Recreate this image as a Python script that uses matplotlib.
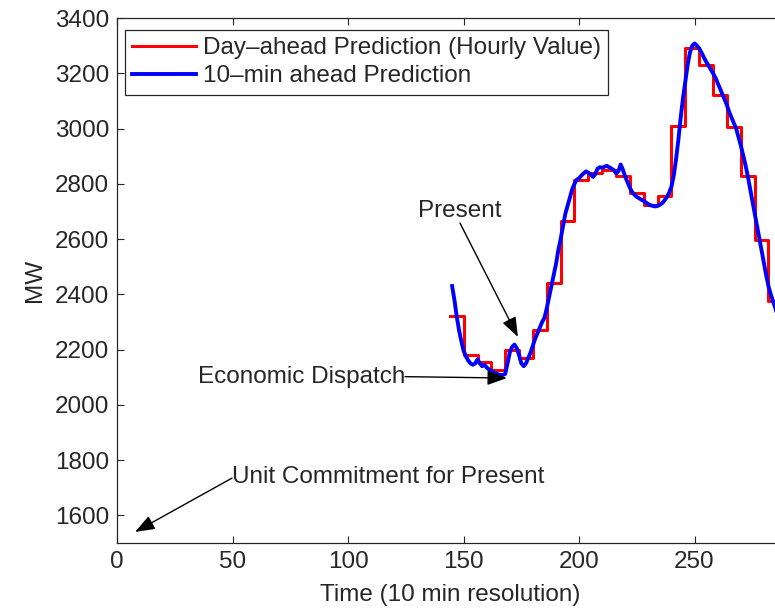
import numpy as np
import matplotlib.pyplot as plt

plt.rcParams['font.family'] = ['Liberation Sans', 'DejaVu Sans']

# 10-min ahead prediction, one value per 10-min step starting at t = 145
t_start = 145
load_10min = [
    2430, 2380, 2320, 2270, 2230, 2195, 2175, 2160, 2150, 2145,
    2150, 2165, 2150, 2140, 2145, 2135, 2128, 2122, 2118, 2114,
    2110, 2108, 2108, 2112, 2150, 2190, 2210, 2218, 2205, 2180,
    2150, 2140, 2150, 2170, 2190, 2215, 2240, 2260, 2280, 2300,
    2315, 2350, 2390, 2430, 2470, 2510, 2560, 2600, 2645, 2690,
    2720, 2750, 2780, 2800, 2815, 2820, 2830, 2838, 2845, 2840,
    2835, 2825, 2835, 2855, 2860, 2858, 2862, 2865, 2860, 2855,
    2850, 2838, 2845, 2870, 2850, 2825, 2805, 2785, 2770, 2760,
    2752, 2748, 2742, 2738, 2732, 2726, 2722, 2720, 2718, 2720,
    2724, 2730, 2740, 2752, 2768, 2790, 2830, 2890, 2960, 3040,
    3110, 3170, 3230, 3275, 3300, 3308, 3300, 3290, 3275, 3258,
    3242, 3228, 3214, 3200, 3185, 3165, 3145, 3125, 3105, 3085,
    3060, 3040, 3020, 3000, 2970, 2940, 2905, 2870, 2830, 2785,
    2740, 2695, 2650, 2605, 2560, 2515, 2470, 2430, 2400, 2375,
    2350, 2320, 2290, 2260,
]

# day-ahead hourly values, each held for 6 steps starting at t = 144
hour_start = 144
load_hourly = [
    2320, 2180, 2155, 2125, 2200, 2170, 2270, 2440, 2665, 2815,
    2840, 2850, 2830, 2765, 2725, 2755, 3010, 3290, 3230, 3120,
    3005, 2830, 2595, 2375,
]

xticks = [0, 50, 100, 150, 200, 250]
yticks = [1600, 1800, 2000, 2200, 2400, 2600, 2800, 3000, 3200, 3400]

FS = 17.5
INK = '#262626'

fig = plt.figure(figsize=(7.75, 6.11), dpi=100)
# axes runs slightly past the right edge of the canvas
ax = fig.add_axes([117.3 / 775, 68 / 611, 665 / 775, 525 / 611])

t10 = t_start + np.arange(len(load_10min))
th = hour_start + 6 * np.arange(len(load_hourly) + 1)
hourly = np.append(load_hourly, load_hourly[-1])

ax.step(th, hourly, where='post', color='#ff0000', lw=2.2,
        label='Day\u2013ahead Prediction (Hourly Value)')
ax.plot(t10, load_10min, color='#0000ff', lw=2.8,
        label='10\u2013min ahead Prediction')

ax.set_xlim(0, 288)
ax.set_ylim(1500, 3400)
ax.set_xticks(xticks)
ax.set_yticks(yticks)
ax.tick_params(direction='in', length=5, width=0.8, labelsize=FS,
               top=True, right=True, colors=INK, pad=6)
for sp in ax.spines.values():
    sp.set_color(INK)
    sp.set_linewidth(0.9)

ax.set_xlabel('Time (10 min resolution)', fontsize=FS, color=INK, labelpad=8)
ax.set_ylabel('MW', fontsize=FS, color=INK, labelpad=6)

leg = ax.legend(loc='upper left', bbox_to_anchor=(0.0116, 0.977),
                borderaxespad=0, fontsize=FS, handlelength=2.6,
                handletextpad=0.3, labelspacing=0.25, borderpad=0.3,
                fancybox=False, framealpha=1)
leg.get_frame().set_edgecolor(INK)
leg.get_frame().set_linewidth(0.9)
for txt in leg.get_texts():
    txt.set_color(INK)

arrow = dict(arrowstyle='-|>,head_length=1.2,head_width=0.45', color='k',
             lw=1.0, shrinkA=0, shrinkB=0)
ax.annotate('', xy=(173.5, 2246), xytext=(148.4, 2658), arrowprops=arrow)
ax.text(148.4, 2700, 'Present', fontsize=FS, ha='center', va='center',
        color=INK)

ax.annotate('', xy=(168.7, 2097), xytext=(124.6, 2102), arrowprops=arrow)
ax.text(124.6, 2102, 'Economic Dispatch', fontsize=FS, ha='right',
        va='center', color=INK)

ax.annotate('', xy=(7.7, 1540), xytext=(49.7, 1735), arrowprops=arrow)
ax.text(49.7, 1738, 'Unit Commitment for Present', fontsize=FS,
        ha='left', va='center', color=INK)

fig.savefig('out.png', dpi=100)
